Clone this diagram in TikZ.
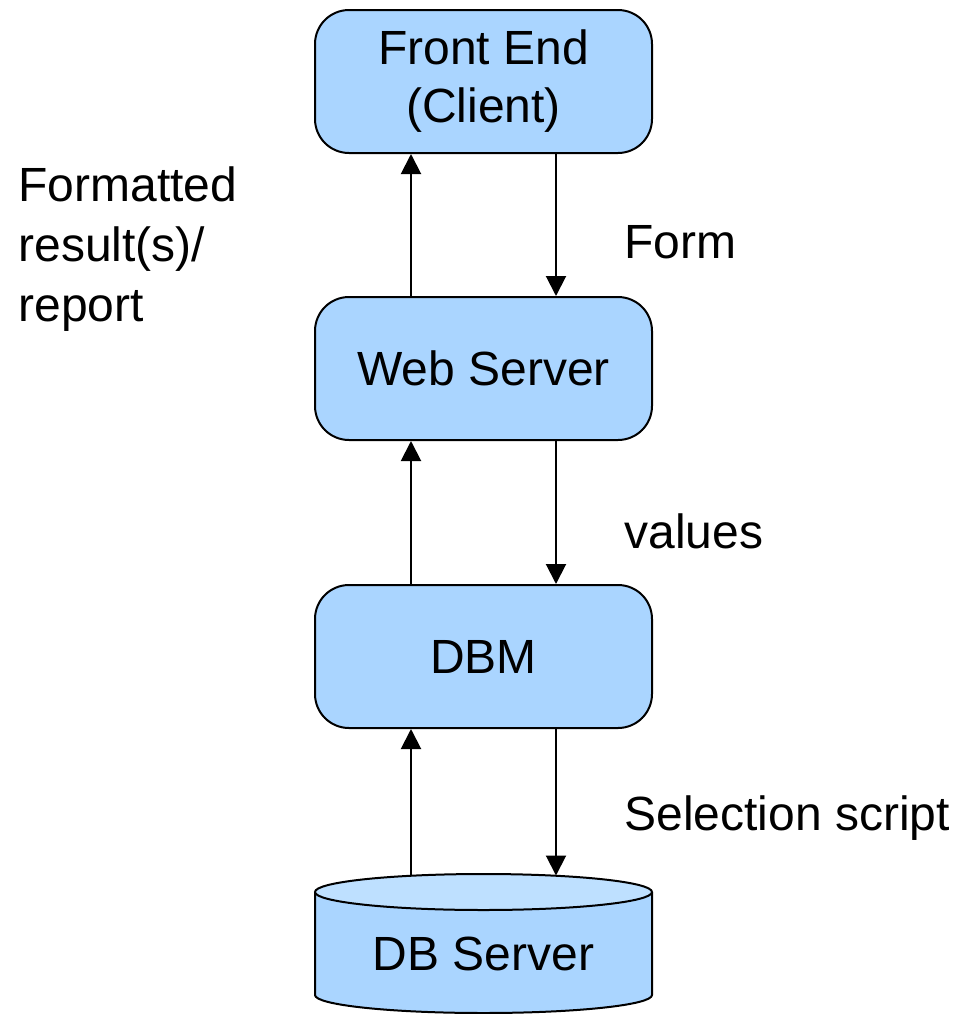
\documentclass[tikz,border=0pt]{standalone}
\usepackage{fontspec}
\setmainfont{Liberation Sans}
\usetikzlibrary{arrows.meta}
\definecolor{boxblue}{RGB}{170,213,255}
\definecolor{topblue}{RGB}{190,224,255}
\tikzset{
    line/.style={
        line width=1pt
    },
    arrow/.style={
        line,
        ->,
        > = {
            Triangle[length=10pt, width=10pt]
        }
    },
    tier/.style={
        line,
        draw=black,
        fill=boxblue,
        rounded corners=17pt,
        minimum width=168.5pt,
        minimum height=71.5pt,
        align=center,
        font=\fontsize{24}{29}\selectfont
    },
    label/.style={
        anchor=west,
        inner sep=0pt,
        align=left,
        font=\fontsize{24}{30}\selectfont
    }
}

\begin{document}
\begin{tikzpicture}[x=0.5pt, y=-0.5pt]
    \useasboundingbox (0, 0) rectangle (955, 1014);
    % Tiers:
    \node [tier] (front) at (483.5, 81.5) {Front End\\(Client)};
    \node [tier] (web) at (483.5, 368.5) {Web Server};
    \node [tier] (dbm) at (483.5, 656.5) {DBM};
    % DB Server:
    \begin{scope}[shift={(483.5, 892)}]
        \fill [boxblue] (-168.5, 0) -- (-168.5, 103) arc [start angle=180, end angle=0, x radius=168.5, y radius=18]
            -- (168.5, 0) -- cycle;
        \draw [line] (-168.5, 0) -- (-168.5, 103) arc [start angle=180, end angle=0, x radius=168.5, y radius=18]
            -- (168.5, 0);
        \draw [line, fill=topblue] (0, 0) ellipse [x radius=168.5, y radius=18];
        \node [font=\fontsize{24}{29}\selectfont] (db) at (0, 62) {DB Server};
        \coordinate (dbin) at (72.5, -16.5);
        \coordinate (dbout) at (-72.5, -16.5);
    \end{scope}
    % Requests:
    \draw [arrow] ([xshift=36.25pt]front.south) -- ([xshift=36.25pt]web.north);
    \draw [arrow] ([xshift=36.25pt]web.south) -- ([xshift=36.25pt]dbm.north);
    \draw [arrow] ([xshift=36.25pt]dbm.south) -- (dbin);
    % Replies:
    \draw [arrow] ([xshift=-36.25pt]web.north) -- ([xshift=-36.25pt]front.south);
    \draw [arrow] ([xshift=-36.25pt]dbm.north) -- ([xshift=-36.25pt]web.south);
    \draw [arrow] (dbout) -- ([xshift=-36.25pt]dbm.south);
    % Labels:
    \node [label] (formatted) at (18, 249) {Formatted\\result(s)/\\report};
    \node [label] (form) at (624, 242) {Form};
    \node [label] (values) at (624, 531) {values};
    \node [label] (selection) at (624, 818) {Selection script};
\end{tikzpicture}
\end{document}
